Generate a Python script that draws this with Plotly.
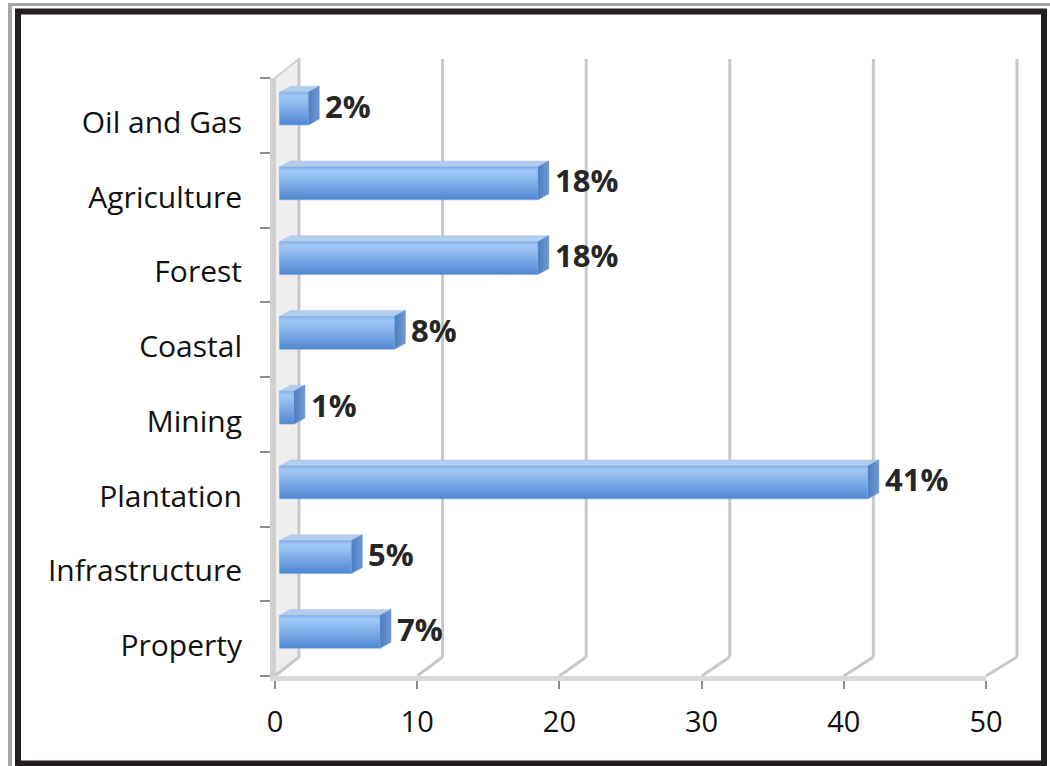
import plotly.graph_objects as go

# ---------------- data ----------------
categories = ["Property", "Infrastructure", "Plantation", "Mining",
              "Coastal", "Forest", "Agriculture", "Oil and Gas"]
values = [7, 5, 41, 1, 8, 18, 18, 2]
value_labels = ["7%", "5%", "41%", "1%", "8%", "18%", "18%", "2%"]
x_ticks = [0, 10, 20, 30, 40, 50]

# ---------------- layout geometry ----------------
W, H = 1050, 766
L, R, T, B = 275, 64, 78, 90
PW, PH = W - L - R, H - T - B

XR = [0, 50]                 # axis with ticks / labels
XR_BAR = [-0.314, 49.24]     # bars sit slightly inside the 3D box
YR = [-0.5, 7.5]
YR_BAR = [-0.59, 7.41]

px_x2 = PW / (XR_BAR[1] - XR_BAR[0])
px_y2 = PH / (YR_BAR[1] - YR_BAR[0])

BAR_HALF = 0.22
DX = 11 / px_x2   # depth of the bar (x)
DY = 6 / px_y2    # depth of the bar (y)

FONT = "Open Sans"

fig = go.Figure()

# invisible helper trace for the category axis
fig.add_trace(go.Scatter(x=[None] * len(categories), y=categories,
                         xaxis="x", yaxis="y", mode="markers",
                         showlegend=False, hoverinfo="skip"))

# 3D-looking bars
for i, (cat, v) in enumerate(zip(categories, values)):
    y0, y1 = i - BAR_HALF, i + BAR_HALF
    # top face
    fig.add_trace(go.Scatter(
        x=[0, v, v + DX, DX, 0], y=[y1, y1, y1 + DY, y1 + DY, y1],
        xaxis="x2", yaxis="y2", mode="lines", fill="toself",
        fillcolor="#b3cdee", line=dict(color="#a9c4e6", width=0.5),
        showlegend=False, hoverinfo="skip"))
    # side face
    fig.add_trace(go.Scatter(
        x=[v, v + DX, v + DX, v, v], y=[y0, y0 + DY, y1 + DY, y1, y0],
        xaxis="x2", yaxis="y2", mode="lines", fill="toself",
        fillgradient=dict(type="horizontal",
                          colorscale=[[0, "#4c7dbf"], [1, "#6f99d2"]]),
        line=dict(color="#5383c2", width=0.5),
        showlegend=False, hoverinfo="skip"))
    # front face
    fig.add_trace(go.Scatter(
        x=[0, v, v, 0, 0], y=[y0, y0, y1, y1, y0],
        xaxis="x2", yaxis="y2", mode="lines", fill="toself",
        fillgradient=dict(type="vertical",
                          colorscale=[[0, "#4f86cf"], [0.3, "#6a9de0"],
                                      [0.7, "#93bdf2"], [0.88, "#9fc6f5"],
                                      [1, "#86b1e9"]]),
        line=dict(color="#7aa6e0", width=0.5),
        name=cat, showlegend=False,
        hovertemplate=f"{cat}: {v}%<extra></extra>"))

# value labels
for i, (v, t) in enumerate(zip(values, value_labels)):
    fig.add_annotation(x=v, y=i + DY / 2, xref="x2", yref="y2", text=f"<b>{t}</b>",
                       showarrow=False, xanchor="left", yanchor="middle",
                       xshift=15, font=dict(family=FONT, size=31, color="#262626"))

# ---------------- 3D box decorations (paper-referenced, so not clipped) ----------------
shapes = []
def off(v):
    return 24 + 0.14 * v   # perspective depth offset in px

def xpaper(v):
    return (v - XR[0]) / (XR[1] - XR[0])

YOFF = 19
GRID = "#c8c8c8"
# left wall
shapes.append(dict(type="path", xref="paper", yref="paper", xsizemode="pixel",
                   ysizemode="pixel", xanchor=xpaper(0), yanchor=0,
                   path=f"M 0 0 L 0 {PH} L {off(0)} {PH + YOFF} L {off(0)} {YOFF} Z",
                   fillcolor="#eeeeee", line=dict(color="#d2d2d2", width=2),
                   layer="below"))
for tv in x_ticks:
    o = off(tv)
    # back vertical gridline
    shapes.append(dict(type="line", xref="paper", yref="paper", xsizemode="pixel",
                       ysizemode="pixel", xanchor=xpaper(tv), yanchor=0,
                       x0=o, x1=o, y0=YOFF, y1=PH + YOFF,
                       line=dict(color=GRID, width=3), layer="below"))
    # floor diagonal
    shapes.append(dict(type="line", xref="paper", yref="paper", xsizemode="pixel",
                       ysizemode="pixel", xanchor=xpaper(tv), yanchor=0,
                       x0=0, x1=o, y0=0, y1=YOFF,
                       line=dict(color=GRID, width=3), layer="below"))

# page frame
def pxp(px):
    return (px - L) / PW
def pyp(py):
    return (H - B - py) / PH

shapes.append(dict(type="line", xref="paper", yref="paper",
                   x0=pxp(10), x1=pxp(10), y0=pyp(3), y1=pyp(770),
                   line=dict(color="#a6a6a6", width=4), layer="above"))
shapes.append(dict(type="line", xref="paper", yref="paper",
                   x0=pxp(8), x1=pxp(1055), y0=pyp(4.5), y1=pyp(4.5),
                   line=dict(color="#a6a6a6", width=3), layer="above"))
shapes.append(dict(type="rect", xref="paper", yref="paper",
                   x0=pxp(18), x1=pxp(1044), y0=pyp(11.5), y1=pyp(763.5),
                   line=dict(color="#231f20", width=6), layer="above"))

fig.update_layout(
    width=W, height=H,
    margin=dict(l=L, r=R, t=T, b=B, pad=0),
    paper_bgcolor="white", plot_bgcolor="white",
    showlegend=False,
    shapes=shapes,
    xaxis=dict(range=XR, tickmode="array", tickvals=x_ticks,
               ticktext=[str(t) for t in x_ticks],
               showgrid=False, zeroline=False,
               showline=True, linecolor="#d9d9d9", linewidth=5,
               ticks="outside", ticklen=8, tickwidth=2, tickcolor="#8c8c8c",
               ticklabelstandoff=8,
               tickfont=dict(family=FONT, size=29, color="#111111"),
               fixedrange=True),
    yaxis=dict(range=YR, type="category", categoryorder="array",
               categoryarray=categories, tickson="boundaries",
               showgrid=False, zeroline=False,
               showline=True, linecolor="#d0d0d0", linewidth=5,
               ticks="outside", ticklen=10, tickwidth=2, tickcolor="#8c8c8c",
               ticklabelstandoff=22, ticklabelshift=7,
               tickfont=dict(family=FONT, size=30, color="#111111"),
               fixedrange=True),
    xaxis2=dict(range=XR_BAR, overlaying="x", visible=False, fixedrange=True),
    yaxis2=dict(range=YR_BAR, overlaying="y", visible=False, fixedrange=True),
)

fig.write_html("out.html")
